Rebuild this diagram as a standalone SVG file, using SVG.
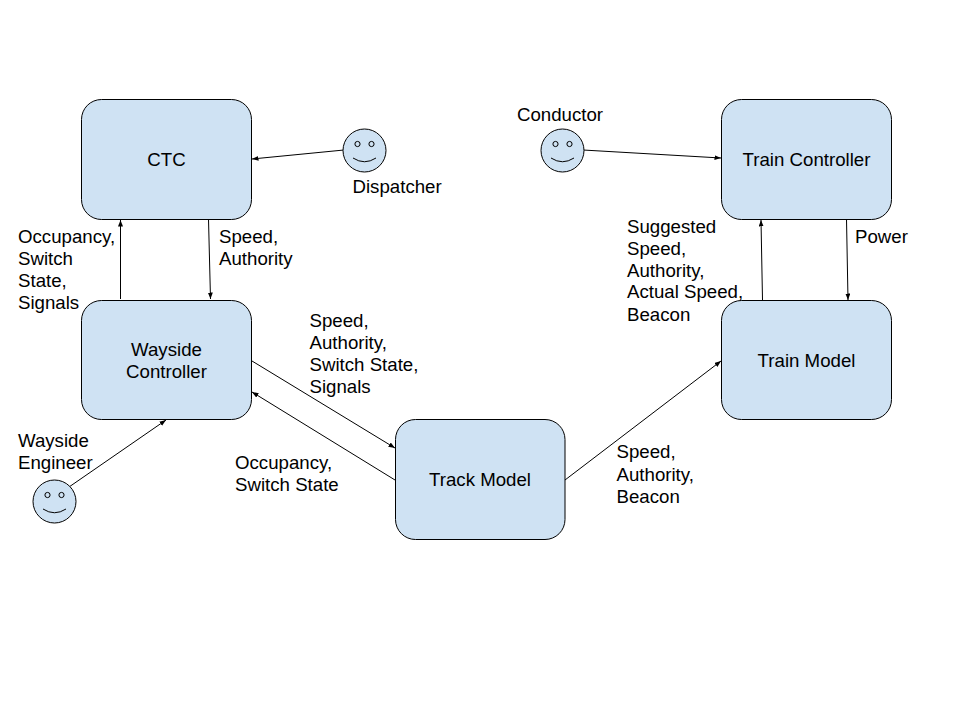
<svg xmlns="http://www.w3.org/2000/svg" width="960" height="720" viewBox="0 0 960 720">
<style>
.box{fill:#cfe2f3;stroke:#000;stroke-width:1}
.face{fill:#cfe2f3;stroke:#000;stroke-width:1}
.feat{fill:none;stroke:#000;stroke-width:1}
.link{fill:none;stroke:#000;stroke-width:1;marker-end:url(#arrow)}
text{font-family:"Liberation Sans",Arial,sans-serif;font-size:18.67px;fill:#000}
.c{text-anchor:middle}
</style>
<defs>
<marker id="arrow" markerUnits="userSpaceOnUse" markerWidth="7" markerHeight="6" refX="6.500" refY="2.500" orient="auto"><path d="M0 0L6.500 2.500L0 5Z" fill="#000"/></marker>
<g id="smile"><circle cx="0" cy="0" r="21.500" class="face"/><circle cx="-7" cy="-6.500" r="2.600" class="feat"/><circle cx="7" cy="-6.500" r="2.600" class="feat"/><path d="M-11.500 7.500Q0 15 11.500 7.500" class="feat"/></g>
</defs>
<rect width="960" height="720" fill="#fff"/>
<g id="connectors">
<path class="link" d="M344 150L252 159"/>
<path class="link" d="M583 150L721 158"/>
<path class="link" d="M120.500 299L120.500 220"/>
<path class="link" d="M208.500 219L210.500 299"/>
<path class="link" d="M762.500 300L761 220"/>
<path class="link" d="M846.500 219L848 300"/>
<path class="link" d="M252 361L395 448"/>
<path class="link" d="M395 480L252 392"/>
<path class="link" d="M565 480L721 361"/>
<path class="link" d="M69 487L166 420"/>
</g>
<g id="ctc"><rect class="box" x="81.500" y="99.500" width="170" height="120" rx="20"/><text class="c" x="166.500" y="166">CTC</text></g>
<g id="wayside-controller"><rect class="box" x="81.500" y="300.500" width="170" height="119" rx="20"/><text class="c" x="166.500" y="356">Wayside</text><text class="c" x="166.500" y="378">Controller</text></g>
<g id="track-model"><rect class="box" x="395.500" y="419.500" width="169.500" height="120" rx="20"/><text class="c" x="480" y="486">Track Model</text></g>
<g id="train-model"><rect class="box" x="721.500" y="300.500" width="170" height="119" rx="20"/><text class="c" x="806.500" y="367">Train Model</text></g>
<g id="train-controller"><rect class="box" x="721.500" y="99.500" width="170" height="120" rx="20"/><text class="c" x="806.500" y="166">Train Controller</text></g>
<g id="dispatcher"><use href="#smile" x="364.500" y="150.500"/><text x="352.500" y="193">Dispatcher</text></g>
<g id="conductor"><use href="#smile" x="562.500" y="150.500"/><text x="517" y="121">Conductor</text></g>
<g id="wayside-engineer"><use href="#smile" x="54.500" y="501.500"/><text x="18" y="447">Wayside</text><text x="18" y="469">Engineer</text></g>
<g id="labels">
<text x="18" y="243">Occupancy,</text><text x="18" y="265">Switch</text><text x="18" y="287">State,</text><text x="18" y="309">Signals</text>
<text x="219" y="243">Speed,</text><text x="219" y="265">Authority</text>
<text x="309.500" y="327">Speed,</text><text x="309.500" y="349">Authority,</text><text x="309.500" y="371">Switch State,</text><text x="309.500" y="393">Signals</text>
<text x="235" y="469">Occupancy,</text><text x="235" y="491">Switch State</text>
<text x="616.500" y="458">Speed,</text><text x="616.500" y="481">Authority,</text><text x="616.500" y="503">Beacon</text>
<text x="627" y="233">Suggested</text><text x="627" y="255">Speed,</text><text x="627" y="277">Authority,</text><text x="627" y="298">Actual Speed,</text><text x="627" y="321">Beacon</text>
<text x="855" y="243">Power</text>
</g>
</svg>
